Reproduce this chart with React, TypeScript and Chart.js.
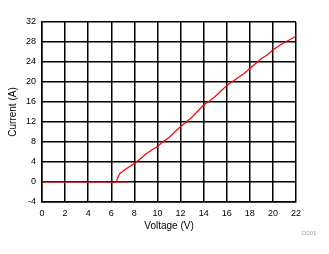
import React, { useEffect, useRef } from "react";
import { Chart, registerables } from "chart.js";

Chart.register(...registerables);

const flatVoltage = [0, 7.5];
const flatCurrent = [0, 0];

const sweepVoltage = [6.5, 6.5, 6.75, 7.2, 8.0, 8.5, 9.0, 9.5, 10.0, 10.4, 11.0, 11.5, 12.0, 12.5, 13.0, 13.5, 14.0, 14.5, 15.0, 15.5, 16.0, 16.5, 17.0, 17.5, 18.0, 18.5, 19.0, 19.5, 20.0, 20.5, 21.0, 21.5, 22.0];
const sweepCurrent = [0, 0.6, 1.7, 2.5, 3.7, 4.6, 5.6, 6.4, 7.1, 7.9, 8.9, 10.0, 11.1, 12.0, 13.0, 14.2, 15.4, 16.2, 17.1, 18.2, 19.3, 20.1, 20.9, 21.7, 22.7, 23.7, 24.7, 25.4, 26.4, 27.2, 27.9, 28.5, 29.2];

const xTitle = "Voltage (V)";
const yTitle = "Current (A)";
const noteText = "D001";

const FONT = "Arial, 'Liberation Sans', sans-serif";

export default function App() {
  const ref = useRef<HTMLCanvasElement | null>(null);
  useEffect(() => {
    if (!ref.current) return;
    const notePlugin = {
      id: "note",
      afterDraw(chart: any) {
        const ctx = chart.ctx;
        ctx.save();
        ctx.fillStyle = "#a0a0a0";
        ctx.font = `6px ${FONT}`;
        ctx.textAlign = "left";
        ctx.textBaseline = "middle";
        ctx.fillText(noteText, 302, 233);
        ctx.restore();
      },
    };
    const chart = new Chart(ref.current, {
      type: "line",
      data: {
        datasets: [
          {
            data: flatVoltage.map((x, i) => ({ x, y: flatCurrent[i] })),
            borderColor: "#ff0000",
            borderWidth: 1.2,
            pointRadius: 0,
            tension: 0,
          },
          {
            data: sweepVoltage.map((x, i) => ({ x, y: sweepCurrent[i] })),
            borderColor: "#ff0000",
            borderWidth: 1.2,
            pointRadius: 0,
            tension: 0,
          },
        ],
      },
      options: {
        animation: false,
        responsive: false,
        layout: { padding: { left: 0, right: 33, top: 22, bottom: 0 } },
        plugins: { legend: { display: false }, tooltip: { enabled: false } },
        scales: {
          x: {
            type: "linear",
            min: 0,
            max: 22,
            afterFit: (s: any) => { s.height = 52; },
            ticks: { stepSize: 2, color: "#000", font: { family: FONT, size: 9 }, padding: 6, maxRotation: 0 },
            grid: { color: "#000", lineWidth: 1.5, drawTicks: false },
            border: { color: "#000", width: 1.5 },
            title: { display: true, text: xTitle, color: "#000", font: { family: FONT, size: 10 }, padding: { top: 0, bottom: 22 } },
          },
          y: {
            type: "linear",
            min: -4,
            max: 32,
            afterFit: (s: any) => { s.width = 42; },
            ticks: { stepSize: 4, color: "#000", font: { family: FONT, size: 9 }, padding: 6 },
            grid: { color: "#000", lineWidth: 1.5, drawTicks: false },
            border: { color: "#000", width: 1.5 },
            title: { display: true, text: yTitle, color: "#000", font: { family: FONT, size: 10 }, padding: { top: 7, bottom: 0 } },
          },
        },
      },
      plugins: [notePlugin],
    });
    return () => chart.destroy();
  }, []);
  return (
    <div style={{ position: "absolute", left: 0, top: 0, width: 329, height: 254, background: "#fff" }}>
      <canvas ref={ref} width={329} height={254} />
    </div>
  );
}
